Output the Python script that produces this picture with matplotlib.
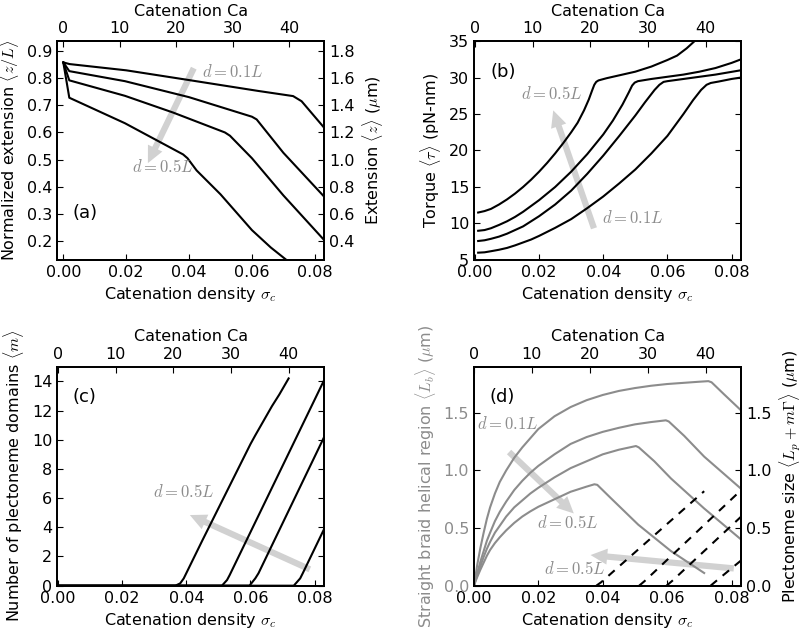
import numpy as np
import matplotlib
matplotlib.use('Agg')
import matplotlib.pyplot as plt
from matplotlib.patches import FancyArrowPatch

# 全局样式
plt.rcParams['font.family'] = ['DejaVu Sans']
plt.rcParams['mathtext.fontset'] = 'cm'
plt.rcParams['font.size'] = 11.5
plt.rcParams['xtick.direction'] = 'in'
plt.rcParams['ytick.direction'] = 'in'
plt.rcParams['xtick.major.size'] = 4
plt.rcParams['ytick.major.size'] = 4
plt.rcParams['axes.linewidth'] = 1.3

CA_PER_SIGMA = 556.0  # Ca = sigma * Lk0

# ---- (a) normalized extension ----
ext_s1 = [0, 0.002, 0.02, 0.04, 0.062, 0.0731, 0.0758, 0.083]
ext_y1 = [0.858, 0.852, 0.829, 0.793, 0.753, 0.734, 0.715, 0.617]
ext_s2 = [0, 0.0019, 0.0196, 0.04, 0.06, 0.0615, 0.07, 0.083]
ext_y2 = [0.858, 0.826, 0.789, 0.730, 0.658, 0.648, 0.525, 0.363]
ext_s3 = [0, 0.0019, 0.0196, 0.035, 0.0514, 0.053, 0.06, 0.07, 0.083]
ext_y3 = [0.858, 0.792, 0.735, 0.673, 0.600, 0.588, 0.505, 0.368, 0.203]
ext_s4 = [0, 0.0019, 0.0196, 0.0381, 0.0395, 0.0424, 0.05, 0.06, 0.066, 0.0712]
ext_y4 = [0.858, 0.728, 0.634, 0.519, 0.505, 0.46, 0.372, 0.24, 0.176, 0.128]

# ---- (b) torque ----
tq_s1 = [0.001, 0.003, 0.005, 0.0075, 0.01, 0.0125, 0.015, 0.0175, 0.02, 0.0225,
         0.025, 0.0275, 0.03, 0.032, 0.034, 0.0355, 0.0365, 0.0372, 0.0378, 0.0385,
         0.041, 0.045, 0.05, 0.055, 0.06, 0.063, 0.066, 0.069]
tq_y1 = [11.5, 11.7, 12.0, 12.6, 13.3, 14.1, 15.0, 16.0, 17.1, 18.3,
         19.6, 21.0, 22.5, 23.8, 25.5, 27.0, 28.2, 29.0, 29.4, 29.6,
         29.9, 30.3, 30.8, 31.5, 32.4, 33.0, 34.0, 35.2]
tq_s2 = [0.001, 0.003, 0.005, 0.0075, 0.01, 0.0125, 0.015, 0.0175, 0.02, 0.025,
         0.03, 0.035, 0.04, 0.043, 0.046, 0.048, 0.049, 0.0498, 0.0508, 0.055,
         0.06, 0.065, 0.07, 0.075, 0.08, 0.083]
tq_y2 = [9.0, 9.1, 9.35, 9.8, 10.3, 10.9, 11.6, 12.4, 13.2, 15.0,
         17.1, 19.5, 22.2, 24.1, 26.3, 28.0, 28.9, 29.3, 29.5, 29.8,
         30.1, 30.4, 30.8, 31.3, 32.0, 32.5]
tq_s3 = [0.001, 0.003, 0.005, 0.0075, 0.01, 0.0125, 0.015, 0.0175, 0.02, 0.025,
         0.03, 0.035, 0.04, 0.045, 0.05, 0.053, 0.056, 0.0575, 0.0588, 0.06,
         0.065, 0.07, 0.075, 0.083]
tq_y3 = [7.6, 7.7, 7.9, 8.2, 8.6, 9.1, 9.6, 10.3, 11.0, 12.6,
         14.5, 16.8, 19.3, 22.0, 24.8, 26.6, 28.3, 29.0, 29.4, 29.5,
         29.8, 30.1, 30.4, 31.0]
tq_s4 = [0.001, 0.003, 0.005, 0.0075, 0.01, 0.0125, 0.015, 0.0175, 0.02, 0.025,
         0.03, 0.035, 0.04, 0.045, 0.05, 0.055, 0.06, 0.065, 0.068, 0.0705,
         0.0722, 0.0735, 0.076, 0.08, 0.083]
tq_y4 = [6.0, 6.05, 6.2, 6.4, 6.65, 7.0, 7.4, 7.8, 8.3, 9.4,
         10.6, 12.1, 13.7, 15.5, 17.4, 19.6, 22.0, 25.0, 26.9, 28.3,
         29.0, 29.25, 29.45, 29.8, 30.0]

# ---- (c) number of plectoneme domains ----
m_s1 = [0, 0.0366, 0.0381, 0.0392, 0.045, 0.05, 0.055, 0.06, 0.0615, 0.0667, 0.069, 0.0719]
m_y1 = [0, 0, 0.16, 0.5, 3.1, 5.3, 7.5, 9.7, 10.3, 12.3, 13.1, 14.2]
m_s2 = [0, 0.0511, 0.0527, 0.0535, 0.083]
m_y2 = [0, 0, 0.39, 0.72, 14.1]
m_s3 = [0, 0.0597, 0.0615, 0.0625, 0.083]
m_y3 = [0, 0, 0.5, 0.85, 10.2]
m_s4 = [0, 0.0735, 0.0755, 0.0763, 0.083]
m_y4 = [0, 0, 0.5, 0.85, 3.9]

# ---- (d) straight braid region (grey) and plectoneme size (dashed) ----
lb_s1 = [0, 0.0005, 0.001, 0.002, 0.003, 0.004, 0.005, 0.0065, 0.008, 0.01,
         0.0125, 0.015, 0.0175, 0.02, 0.025, 0.03, 0.035, 0.04, 0.045, 0.05,
         0.055, 0.06, 0.065, 0.07, 0.0728, 0.0738, 0.0777, 0.083]
lb_y1 = [0, 0.09, 0.18, 0.33, 0.46, 0.58, 0.68, 0.80, 0.90, 1.00,
         1.11, 1.20, 1.28, 1.36, 1.47, 1.55, 1.61, 1.655, 1.69, 1.715,
         1.735, 1.75, 1.76, 1.77, 1.775, 1.765, 1.66, 1.52]
lb_s2 = [0, 0.0005, 0.001, 0.002, 0.003, 0.004, 0.005, 0.0065, 0.008, 0.01,
         0.0125, 0.015, 0.0175, 0.02, 0.025, 0.03, 0.035, 0.04, 0.045, 0.05,
         0.055, 0.0596, 0.0605, 0.0653, 0.0715, 0.083]
lb_y2 = [0, 0.06, 0.11, 0.21, 0.30, 0.39, 0.46, 0.56, 0.64, 0.73,
         0.83, 0.91, 0.98, 1.04, 1.14, 1.23, 1.29, 1.335, 1.37, 1.40,
         1.42, 1.435, 1.425, 1.30, 1.12, 0.84]
lb_s3 = [0, 0.0005, 0.001, 0.002, 0.003, 0.004, 0.005, 0.0065, 0.008, 0.01,
         0.0125, 0.015, 0.0175, 0.02, 0.025, 0.03, 0.035, 0.04, 0.045, 0.0503,
         0.0512, 0.056, 0.0612, 0.0715, 0.083]
lb_y3 = [0, 0.05, 0.09, 0.17, 0.25, 0.32, 0.38, 0.46, 0.52, 0.60,
         0.68, 0.74, 0.80, 0.85, 0.94, 1.02, 1.08, 1.14, 1.18, 1.212,
         1.20, 1.08, 0.93, 0.67, 0.40]
lb_s4 = [0, 0.0005, 0.001, 0.002, 0.003, 0.004, 0.005, 0.0065, 0.008, 0.01,
         0.0125, 0.015, 0.0175, 0.02, 0.025, 0.03, 0.035, 0.0374, 0.0383, 0.0425,
         0.051, 0.0612, 0.0715]
lb_y4 = [0, 0.04, 0.075, 0.14, 0.20, 0.26, 0.31, 0.37, 0.42, 0.48,
         0.545, 0.60, 0.645, 0.685, 0.75, 0.815, 0.86, 0.88, 0.875, 0.76,
         0.53, 0.30, 0.11]

lp_s1 = [0.038, 0.0395, 0.0715]
lp_y1 = [0, 0.03, 0.82]
lp_s2 = [0.0513, 0.053, 0.083]
lp_y2 = [0, 0.04, 0.83]
lp_s3 = [0.0598, 0.0615, 0.083]
lp_y3 = [0, 0.04, 0.60]
lp_s4 = [0.0735, 0.0752, 0.083]
lp_y4 = [0, 0.04, 0.22]

SIGMA_TICKS = [0.00, 0.02, 0.04, 0.06, 0.08]
CA_TICKS = [0, 10, 20, 30, 40]

TEXT_GREY = '0.55'
ARROW_GREY = '0.82'
CURVE_GREY = '0.55'


def add_top_axis(ax):
    """上方的 Catenation Ca 坐标轴"""
    top = ax.twiny()
    lo, hi = ax.get_xlim()
    top.set_xlim(lo * CA_PER_SIGMA, hi * CA_PER_SIGMA)
    top.set_xticks(CA_TICKS)
    top.set_xlabel('Catenation Ca')
    return top


def add_arrow(ax, tail, head):
    arr = FancyArrowPatch(tail, head,
                          arrowstyle='simple,head_length=1.2,head_width=1.15,tail_width=0.45',
                          mutation_scale=10, color=ARROW_GREY, lw=0,
                          shrinkA=0, shrinkB=0, zorder=1)
    ax.add_patch(arr)


def dlabel(ax, x, y, s):
    ax.text(x, y, s, color=TEXT_GREY, fontsize=12, ha='left', va='center', zorder=3)


fig = plt.figure(figsize=(8, 6.31), dpi=100)

W, H = 0.334, 0.347
ax_a = fig.add_axes([0.0713, 0.588, W, H])
ax_b = fig.add_axes([0.5925, 0.588, W, H])
ax_c = fig.add_axes([0.0713, 0.0718, W, H])
ax_d = fig.add_axes([0.5925, 0.0718, W, H])

# ---------------- (a) ----------------
for s, y in [(ext_s1, ext_y1), (ext_s2, ext_y2), (ext_s3, ext_y3), (ext_s4, ext_y4)]:
    ax_a.plot(s, y, color='k', lw=1.5, zorder=2)
ax_a.set_xlim(-0.002, 0.083)
ax_a.set_ylim(0.13, 0.937)
ax_a.set_xticks(SIGMA_TICKS)
ax_a.set_yticks(np.arange(0.2, 0.95, 0.1))
ax_a.set_xlabel(r'Catenation density $\sigma_c$')
ax_a.set_ylabel(r'Normalized extension $\langle z/L\rangle$')
ax_a.text(0.059, 0.215, '(a)', transform=ax_a.transAxes, fontsize=13, va='center')
add_arrow(ax_a, (0.0415, 0.837), (0.0269, 0.487))
dlabel(ax_a, 0.044, 0.824, r'$d=0.1L$')
dlabel(ax_a, 0.0217, 0.474, r'$d=0.5L$')
ax_a_r = ax_a.twinx()
ax_a_r.set_ylim(0.13 * 2, 0.937 * 2)
ax_a_r.set_yticks(np.arange(0.4, 1.85, 0.2))
ax_a_r.set_ylabel(r'Extension $\langle z\rangle$ ($\mu$m)')
add_top_axis(ax_a)

# ---------------- (b) ----------------
for s, y in [(tq_s1, tq_y1), (tq_s2, tq_y2), (tq_s3, tq_y3), (tq_s4, tq_y4)]:
    ax_b.plot(s, y, color='k', lw=1.5, zorder=2)
ax_b.set_xlim(-0.0003, 0.083)
ax_b.set_ylim(5, 35)
ax_b.set_xticks(SIGMA_TICKS)
ax_b.set_yticks(range(5, 36, 5))
ax_b.set_xlabel(r'Catenation density $\sigma_c$')
ax_b.set_ylabel(r'Torque $\langle\tau\rangle$ (pN-nm)')
ax_b.text(0.06, 0.86, '(b)', transform=ax_b.transAxes, fontsize=13, va='center')
add_arrow(ax_b, (0.0371, 9.34), (0.0244, 25.5))
dlabel(ax_b, 0.0143, 27.8, r'$d=0.5L$')
dlabel(ax_b, 0.0396, 10.7, r'$d=0.1L$')
add_top_axis(ax_b)
ax_b.tick_params(right=True)

# ---------------- (c) ----------------
for s, y in [(m_s1, m_y1), (m_s2, m_y2), (m_s3, m_y3), (m_s4, m_y4)]:
    ax_c.plot(s, y, color='k', lw=1.5, zorder=2)
ax_c.set_xlim(-0.0003, 0.083)
ax_c.set_ylim(0, 15)
ax_c.set_xticks(SIGMA_TICKS)
ax_c.set_yticks(range(0, 15, 2))
ax_c.set_xlabel(r'Catenation density $\sigma_c$')
ax_c.set_ylabel(r'Number of plectoneme domains $\langle m\rangle$')
ax_c.text(0.059, 0.86, '(c)', transform=ax_c.transAxes, fontsize=13, va='center')
add_arrow(ax_c, (0.0785, 1.12), (0.0411, 4.84))
dlabel(ax_c, 0.0297, 6.4, r'$d=0.5L$')
add_top_axis(ax_c)
ax_c.tick_params(right=True)

# ---------------- (d) ----------------
for s, y in [(lb_s1, lb_y1), (lb_s2, lb_y2), (lb_s3, lb_y3), (lb_s4, lb_y4)]:
    ax_d.plot(s, y, color=CURVE_GREY, lw=1.5, zorder=2)
for s, y in [(lp_s1, lp_y1), (lp_s2, lp_y2), (lp_s3, lp_y3), (lp_s4, lp_y4)]:
    ax_d.plot(s, y, color='k', lw=1.5, ls=(0, (4, 3.5)), zorder=2)
ax_d.set_xlim(0, 0.083)
ax_d.set_ylim(0, 1.9)
ax_d.set_xticks(SIGMA_TICKS)
ax_d.set_yticks([0.0, 0.5, 1.0, 1.5])
ax_d.tick_params(axis='y', labelcolor=TEXT_GREY)
ax_d.set_xlabel(r'Catenation density $\sigma_c$')
ax_d.set_ylabel(r'Straight braid helical region $\langle L_b\rangle$ ($\mu$m)', color=TEXT_GREY)
ax_d.text(0.057, 0.863, '(d)', transform=ax_d.transAxes, fontsize=13, va='center')
add_arrow(ax_d, (0.0109, 1.16), (0.031, 0.627))
add_arrow(ax_d, (0.0807, 0.15), (0.0362, 0.266))
dlabel(ax_d, 0.001, 1.405, r'$d=0.1L$')
dlabel(ax_d, 0.0197, 0.54, r'$d=0.5L$')
dlabel(ax_d, 0.0217, 0.142, r'$d=0.5L$')
ax_d_r = ax_d.twinx()
ax_d_r.set_ylim(0, 1.9)
ax_d_r.set_yticks([0.0, 0.5, 1.0, 1.5])
ax_d_r.set_ylabel(r'Plectoneme size $\langle L_p +m\Gamma\rangle$ ($\mu$m)')
add_top_axis(ax_d)

fig.savefig('out.png', dpi=100)
